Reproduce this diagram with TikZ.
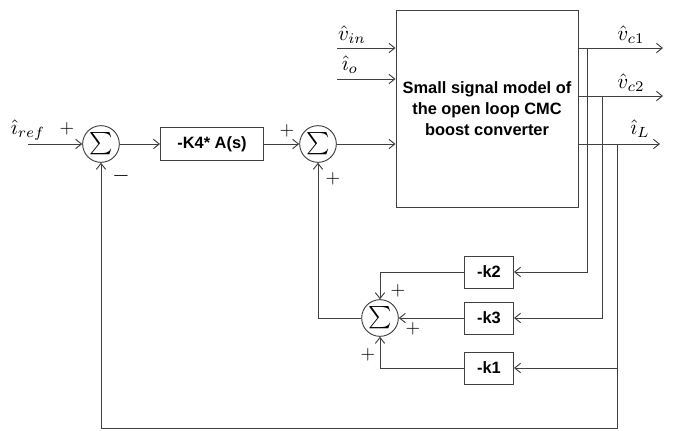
\documentclass[tikz,border=0pt]{standalone}
\usepackage{fontspec}
\setsansfont{Liberation Sans}
\usetikzlibrary{arrows.meta}
\tikzset{
  sumnode/.style={circle,draw,minimum size=1.1cm,inner sep=0pt},
  gainbox/.style={draw,font=\sffamily\bfseries\fontsize{14}{17}\selectfont,minimum width=1.47cm,minimum height=0.96cm,inner sep=2pt},
  sig/.style={-{Straight Barb[length=5pt,width=8pt]}},
  sgn/.style={inner sep=0pt},
  lbl/.style={inner sep=0pt},
}
\newcommand{\sumsym}{\scalebox{1.9}{$\sum$}}
\newcommand{\bigsig}[1]{\scalebox{1.8}{$#1$}}
\begin{document}
\begin{tikzpicture}[x=0.03cm,y=-0.03cm,line width=0.8pt,color=black!75,every node/.style={text=black}]
  \useasboundingbox (0,0) rectangle (685,431);
  % forward path
  \node[sumnode] (s1) at (101,144) {\sumsym};
  \node[gainbox,minimum width=3.09cm,minimum height=0.99cm] (k4) at (212,144) {-K4* A(s)};
  \node[sumnode] (s2) at (318,144) {\sumsym};
  \node[draw,minimum width=5.46cm,minimum height=5.91cm,align=center,
        font=\sffamily\bfseries\fontsize{14}{18}\selectfont] (plant) at (487,108.5)
        {Small signal model of\\the open loop CMC\\boost converter};
  \coordinate (ref) at (28,144);
  \coordinate (vin) at (337,48);
  \coordinate (io) at (337,79);
  \coordinate (vc1) at (663,48);
  \coordinate (vc2) at (663,96);
  \coordinate (il) at (660,144);
  \draw[sig] (ref) -- (s1);
  \draw[sig] (s1) -- (k4);
  \draw[sig] (k4) -- (s2);
  \draw[sig] (s2) -- (s2 -| plant.west);
  \draw[sig] (vin) -- (vin -| plant.west);
  \draw[sig] (io) -- (io -| plant.west);
  \draw[sig] (vc1 -| plant.east) -- (vc1);
  \draw[sig] (vc2 -| plant.east) -- (vc2);
  \draw[sig] (il -| plant.east) -- (il);
  % state feedback
  \node[gainbox] (k2) at (489,272) {-k2};
  \node[gainbox] (k3) at (489,318) {-k3};
  \node[gainbox] (k1) at (489,368) {-k1};
  \node[sumnode] (s3) at (380,318) {\sumsym};
  \coordinate (tap1) at (587,48);
  \coordinate (tap2) at (602,96);
  \coordinate (tap3) at (617,144);
  \coordinate (bot) at (617,428);
  \draw[sig] (tap1) |- (k2);
  \draw[sig] (tap2) |- (k3);
  \draw[sig] (tap3) |- (k1);
  \draw[sig] (k2) -| (s3);
  \draw[sig] (k3) -- (s3);
  \draw[sig] (k1) -| (s3);
  \draw[sig] (s3) -| (s2);
  \draw[sig] (tap3) -- (bot) -| (s1);
  % labels
  \node[lbl] (lref) at (28,130) {\bigsig{\hat{\imath}_{ref}}};
  \node[lbl] (lvin) at (352,35) {\bigsig{\hat{v}_{in}}};
  \node[lbl] (lio) at (350,65) {\bigsig{\hat{\imath}_{o}}};
  \node[lbl] (lvc1) at (631,35) {\bigsig{\hat{v}_{c1}}};
  \node[lbl] (lvc2) at (631,83) {\bigsig{\hat{v}_{c2}}};
  \node[lbl] (lil) at (640,129) {\bigsig{\hat{\imath}_{L}}};
  % signs
  \node[sgn] (p1) at (67,129) {\scalebox{1.6}{$+$}};
  \node[sgn] (m1) at (121,176) {\scalebox{1.9}{$-$}};
  \node[sgn] (p2) at (287,131) {\scalebox{1.6}{$+$}};
  \node[sgn] (p3) at (333,179) {\scalebox{1.6}{$+$}};
  \node[sgn] (p4) at (398,291) {\scalebox{1.6}{$+$}};
  \node[sgn] (p5) at (413,329) {\scalebox{1.6}{$+$}};
  \node[sgn] (p6) at (368,355) {\scalebox{1.6}{$+$}};
\end{tikzpicture}
\end{document}
